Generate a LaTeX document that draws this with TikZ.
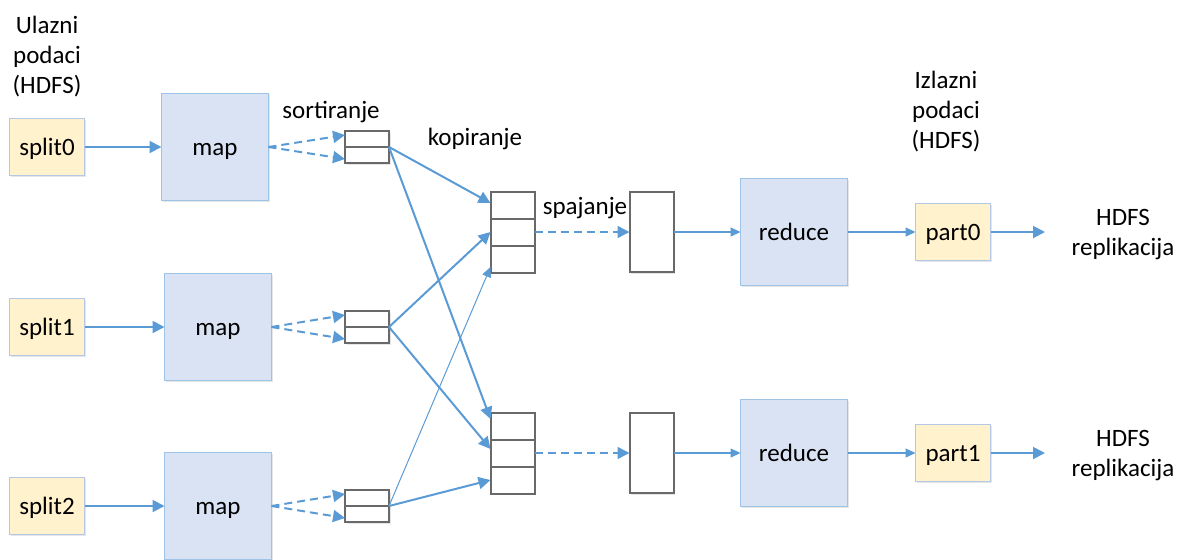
\documentclass[tikz,border=0pt]{standalone}
\usepackage{fontspec}
\setmainfont{Carlito}
\usetikzlibrary{arrows.meta}
\usetikzlibrary{shadows}

\definecolor{arrblue}{RGB}{91,155,213}
\definecolor{mapfill}{RGB}{218,227,243}
\definecolor{mapline}{RGB}{157,195,230}
\definecolor{splitfill}{RGB}{255,242,204}
\definecolor{splitline}{RGB}{180,199,231}
\definecolor{bufline}{RGB}{105,105,105}

\tikzset{
  box/.style={draw, inner sep=0pt, outer sep=0pt,
    drop shadow={shadow xshift=0.8pt, shadow yshift=-0.8pt, opacity=0.2}},
  splitbox/.style={box, draw=splitline, fill=splitfill, line width=0.6pt,
    minimum width=37.5pt, minimum height=28.5pt, text height=11pt, text depth=3pt},
  mapbox/.style={box, draw=mapline, fill=mapfill, line width=0.7pt, minimum size=53.5pt,
    text height=11pt, text depth=3pt},
  cell/.style={box, draw=bufline, fill=white, line width=1pt, minimum width=22pt},
  txt/.style={inner sep=0pt, align=center},
  flow/.style={arrblue, line width=1pt, -{Triangle[length=6pt,width=6pt]}},
  thinflow/.style={arrblue, line width=0.65pt, -{Triangle[length=5pt,width=4.5pt]}},
  sortflow/.style={flow, dash pattern=on 4pt off 2.5pt},
}

\begin{document}
\begin{tikzpicture}[x=0.5pt,y=-0.5pt,font=\fontsize{12.5}{15}\selectfont]
  \useasboundingbox (0,0) rectangle (1179,559);

  \node[txt] (inlbl) at (47,57) {Ulazni\\podaci\\(HDFS)};
  \node[txt] (outlbl) at (946,111.5) {Izlazni\\podaci\\(HDFS)};
  \node[txt, anchor=base] (sortlbl) at (331,118) {sortiranje};
  \node[txt, anchor=base] (copylbl) at (475,145) {kopiranje};
  \node[txt, anchor=base] (mergelbl) at (585,214) {spajanje};

  \foreach \i/\y/\mx in {0/147/215,1/327/218,2/506/218}{
    \node[splitbox] (split\i) at (47,\y) {split\i};
    \node[mapbox] (map\i) at (\mx,\y) {map};
    \node[cell, minimum height=8pt] (sorta\i) at (367,\y-8) {};
    \node[cell, minimum height=8pt] (sortb\i) at (367,\y+8) {};
    \draw[flow] (split\i) -- (map\i);
    \draw[sortflow] (map\i.east) -- ([yshift=2pt]sorta\i.west);
    \draw[sortflow] (map\i.east) -- ([yshift=-2pt]sortb\i.west);
  } % map + sortiranje

  \foreach \j/\y in {0/232,1/453}{
    \node[cell, minimum height=13.5pt] (cpa\j) at (512.5,\y-27) {};
    \node[cell, minimum height=13.5pt] (cpb\j) at (512.5,\y) {};
    \node[cell, minimum height=13.5pt] (cpc\j) at (512.5,\y+27) {};
    \node[cell, minimum height=40pt] (merge\j) at (651.5,\y) {};
    \node[mapbox] (red\j) at (794,\y) {reduce};
    \node[splitbox] (part\j) at (953,\y) {part\j};
    \node[txt] (hdfs\j) at (1123,\y+2.5) {HDFS\\replikacija};
    \coordinate (out\j) at (1045,\y);
    \draw[sortflow, line width=0.8pt] (cpb\j.east) -- (merge\j.west);
    \draw[thinflow] (merge\j.east) -- (red\j.west);
    \draw[thinflow] (red\j.east) -- (part\j.west);
    \draw[flow] (part\j.east) -- (out\j);
  } % reduce strana

  % kopiranje
  \draw[flow] (sorta0.south east) -- ([yshift=1pt]cpa0.west);
  \draw[flow] (sorta0.south east) -- ([yshift=3.5pt]cpa1.west);
  \draw[flow] (sorta1.south east) -- (cpb0.west);
  \draw[flow] (sorta1.south east) -- ([yshift=2pt]cpb1.west);
  \draw[thinflow, line width=0.5pt] (sorta2.south east) -- ([yshift=-4pt]cpc0.west);
  \draw[flow] (sorta2.south east) -- (cpc1.west);
\end{tikzpicture}
\end{document}
